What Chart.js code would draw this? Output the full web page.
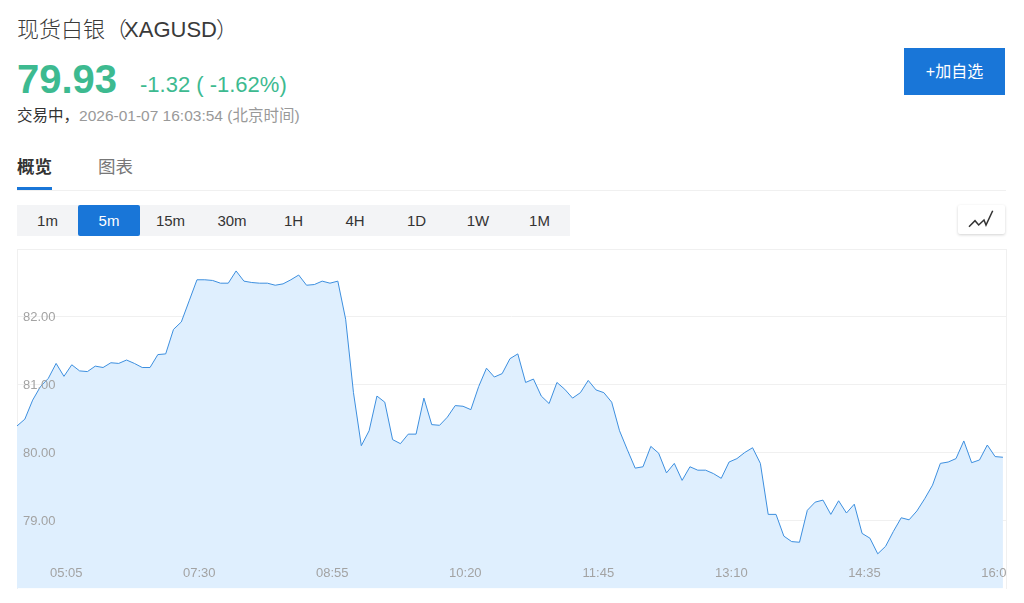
<!DOCTYPE html>
<html lang="zh">
<head>
<meta charset="utf-8">
<title>现货白银（XAGUSD）</title>
<script src="https://cdn.jsdelivr.net/npm/chart.js@4/dist/chart.umd.min.js"></script>
<style>
html,body{margin:0;padding:0;background:#fff;width:1024px;height:603px;overflow:hidden}
body{font-family:"Liberation Sans","Noto Sans CJK SC",sans-serif;color:#333;position:relative}
.a{position:absolute;white-space:nowrap}
.period{position:absolute;top:205px;height:31px;width:62px;line-height:31px;text-align:center;font-size:15px;color:#333}
#wrap{position:absolute;left:17px;top:249px;width:988px;height:339px;border:1px solid #f0f0f0;border-bottom:0}
canvas{position:absolute;left:17px;top:240px}
</style>
</head>
<body>
<div class="a" style="left:17px;top:17px;font-size:22px;line-height:26px;color:#3a3a3a;font-weight:300">现货白银<span style="letter-spacing:-3px">（</span>XAGUSD<span style="margin-left:-1px">）</span></div>
<div class="a" style="left:17px;top:56px;font-size:40px;line-height:46px;font-weight:bold;color:#3dba90">79.93</div>
<div class="a" style="left:140px;top:71px;font-size:22px;line-height:28px;color:#3dba90">-1.32 ( -1.62%)</div>
<div class="a" style="left:17px;top:107px;font-size:15.5px;line-height:18px;color:#333">交易中，<span style="color:#999">2026-01-07 16:03:54 (北京时间)</span></div>
<div class="a" style="left:904px;top:48px;width:101px;height:47px;line-height:47px;background:#1976d8;color:#fff;font-size:16px;text-align:center">+加自选</div>
<div class="a" style="left:17px;top:157px;font-size:17.5px;line-height:20px;font-weight:bold;color:#333">概览</div>
<div class="a" style="left:98px;top:157px;font-size:17.5px;line-height:20px;color:#777">图表</div>
<div class="a" style="left:17px;top:190px;width:989px;height:1px;background:#f0f0f0"></div>
<div class="a" style="left:17px;top:187px;width:35px;height:3px;background:#1976d8"></div>
<div class="a" style="left:17px;top:205px;width:553px;height:31px;background:#f3f4f6"></div>
<div class="a" style="left:78px;top:205px;width:62px;height:31px;background:#1976d8;border-radius:2px"></div>
<div id="periods"></div>
<div class="a" style="left:958px;top:205px;width:47px;height:29px;background:#fff;border-radius:2px;box-shadow:0 1px 3px rgba(0,0,0,.18)">
<svg width="47" height="29" style="display:block"><polyline points="11,21.7 17,15.7 20.7,20 26,15 28,20 34.7,5.7" fill="none" stroke="#333" stroke-width="1.5"/></svg>
</div>
<div id="wrap"></div>
<canvas id="c" width="989" height="349"></canvas>
<script>
const periods = ["1m","5m","15m","30m","1H","4H","1D","1W","1M"];
const xTickIndex = [6,23,40,57,74,91,108,125];
const xTickLabels = ["05:05","07:30","08:55","10:20","11:45","13:10","14:35","16:00"];
const yTicks = [82,81,80,79];
const prices = [
80.39,80.49,80.77,80.97,81.09,81.31,81.12,81.29,81.20,81.19,
81.27,81.25,81.32,81.31,81.36,81.31,81.25,81.25,81.44,81.45,
81.81,81.92,82.23,82.54,82.54,82.53,82.49,82.49,82.67,82.52,
82.50,82.49,82.49,82.46,82.48,82.54,82.61,82.46,82.47,82.52,
82.49,82.52,81.96,80.88,80.10,80.32,80.83,80.74,80.19,80.13,
80.27,80.27,80.80,80.41,80.40,80.52,80.69,80.68,80.63,80.97,
81.24,81.11,81.16,81.38,81.45,81.03,81.08,80.83,80.72,81.03,
80.93,80.80,80.88,81.06,80.92,80.88,80.74,80.32,80.04,79.77,
79.79,80.09,79.99,79.70,79.84,79.59,79.79,79.74,79.74,79.69,
79.62,79.86,79.91,80.00,80.07,79.84,79.09,79.09,78.77,78.69,
78.68,79.15,79.27,79.30,79.09,79.29,79.11,79.24,78.81,78.74,
78.51,78.62,78.84,79.04,79.01,79.14,79.32,79.52,79.84,79.86,
79.91,80.17,79.85,79.89,80.11,79.94,79.93];

const box = document.getElementById('periods');
periods.forEach((p,i)=>{
  const d=document.createElement('div');
  d.className='period'; d.textContent=p;
  d.style.left=(16.5+i*61.5)+'px';
  if(p==='5m') d.style.color='#fff';
  box.appendChild(d);
});

new Chart(document.getElementById('c'),{
  type:'line',
  data:{datasets:[{
    data:prices.map((y,x)=>({x,y})),
    borderColor:'#3d8fdf',borderWidth:1,
    backgroundColor:'#dfeffe',fill:'start',
    pointRadius:0,tension:0
  }]},
  options:{
    responsive:false,animation:false,
    layout:{padding:{left:0,right:0,top:8.5,bottom:0.5}},
    plugins:{legend:{display:false},tooltip:{enabled:false}},
    scales:{
      x:{
        type:'linear',min:0,max:126.39,
        border:{display:false},
        grid:{display:false,drawTicks:false,tickLength:0},
        afterBuildTicks(s){s.ticks=xTickIndex.map(value=>({value}));},
        afterFit(s){s.height=0;s.paddingLeft=0;s.paddingRight=0;},
        ticks:{mirror:true,padding:7,labelOffset:2.3,z:1,autoSkip:false,maxRotation:0,minRotation:0,
          color:'#a3a3a3',font:{family:'"Liberation Sans"',size:13},
          callback(v){const i=xTickIndex.indexOf(v);return i<0?'':xTickLabels[i];}}
      },
      y:{
        type:'linear',min:78,max:83,
        border:{display:false},
        grid:{color:'#f0f0f0',lineWidth:1,drawTicks:false,tickLength:0},
        afterBuildTicks(s){s.ticks=yTicks.map(value=>({value}));},
        afterFit(s){s.width=0;s.paddingTop=0;s.paddingBottom=0;},
        ticks:{mirror:true,padding:6,labelOffset:1,z:1,color:'#a3a3a3',font:{family:'"Liberation Sans"',size:13},
          callback(v){return v.toFixed(2);}}
      }
    }
  }
});
</script>
</body>
</html>
